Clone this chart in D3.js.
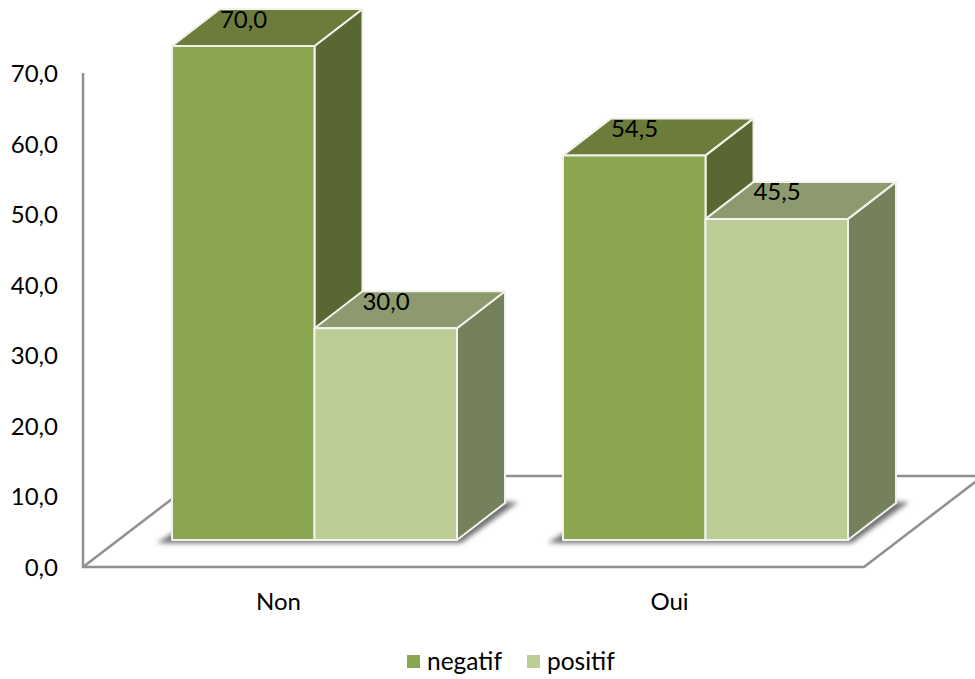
<!DOCTYPE html>
<html>
<head>
<meta charset="utf-8">
<script src="https://cdn.jsdelivr.net/npm/d3@7"></script>
<style>
  html, body { margin: 0; padding: 0; background: #fff; }
  svg { display: block; }
  text { font-family: Lato, "Open Sans", sans-serif; fill: #000; }
</style>
</head>
<body>
<svg id="chart" width="975" height="679"></svg>
<script>
const categories = ["Non", "Oui"];
const seriesNames = ["negatif", "positif"];
const negatif = [70.0, 54.5];
const positif = [30.0, 45.5];
const yTicks = [0, 10, 20, 30, 40, 50, 60, 70];

const faceColors = {
  negatif: { front: "#8ba650", top: "#6b7c3b", side: "#596832" },
  positif: { front: "#bbcc94", top: "#8d9a70", side: "#75815c" }
};

const W = 975, H = 679;
const fmt = v => v.toFixed(1).replace(".", ",");

const svg = d3.select("#chart").attr("viewBox", [0, 0, W, H]);

const defs = svg.append("defs");
defs.append("filter").attr("id", "soft")
  .attr("x", "-10%").attr("y", "-30%").attr("width", "120%").attr("height", "160%")
  .append("feGaussianBlur").attr("stdDeviation", 2.5);

// Wall scale (axis plane) and the plane the bar fronts stand on
const yWall = d3.scaleLinear().domain([0, 70]).range([567, 73]);
const yFront = d3.scaleLinear().domain([0, 70]).range([540, 46]);
const band = d3.scaleBand().domain(categories).range([83, 865]);
const barShiftX = 36;              // bars stand part-way into the floor
const sub = d3.scaleBand().domain(seriesNames).range([0, 285]);
const depthX = 48, depthY = -37;   // oblique projection of bar depth

const barLeft = (c, s) => band(c) + band.bandwidth() / 2 + barShiftX - 142.5 + sub(s);
const poly = pts => pts.map(p => p.join(",")).join(" ");

// Floor and wall outline
const axisColor = "#909090";
const floorDX = 119, floorDY = -91;
const floor = svg.append("g").attr("fill", "none").attr("stroke", axisColor).attr("stroke-width", 2.5);
floor.append("polyline").attr("points", poly([
  [83, yWall(70)], [83, yWall(0)], [864, yWall(0)], [864 + floorDX, yWall(0) + floorDY]
]));
floor.append("line").attr("x1", 83).attr("y1", yWall(0)).attr("x2", 83 + floorDX).attr("y2", yWall(0) + floorDY);
floor.append("line").attr("x1", 83 + floorDX).attr("y1", yWall(0) + floorDY).attr("x2", 864 + floorDX).attr("y2", yWall(0) + floorDY);

// Cast shadow under each bar group, with a white halo cutting the floor lines
categories.forEach(c => {
  const l = barLeft(c, "negatif"), r = l + 285, b = yFront(0);
  svg.append("polygon")
    .attr("points", poly([[l - 2, b + 2], [r + 2, b + 2], [r + depthX + 6, b + depthY - 1], [l + depthX, b + depthY]]))
    .attr("fill", "#fff").attr("stroke", "#fff").attr("stroke-width", 4);
  svg.append("polygon")
    .attr("points", poly([[l - 15, b + 3], [r + 4, b + 3], [r + depthX + 13, b + depthY - 1], [l + depthX, b + depthY]]))
    .attr("fill", "#707070").attr("filter", "url(#soft)");
});

// Three visible faces of a bar
function drawBar(c, s, v) {
  const col = faceColors[s];
  const x0 = barLeft(c, s), x1 = x0 + sub.bandwidth();
  const yT = yFront(v), yB = yFront(0);
  const g = svg.append("g").attr("stroke", "#f2f2ec").attr("stroke-width", 2).attr("stroke-linejoin", "round");
  g.append("polygon").attr("fill", col.side)
    .attr("points", poly([[x1, yT], [x1 + depthX, yT + depthY], [x1 + depthX, yB + depthY], [x1, yB]]));
  g.append("polygon").attr("fill", col.top)
    .attr("points", poly([[x0, yT], [x0 + depthX, yT + depthY], [x1 + depthX, yT + depthY], [x1, yT]]));
  g.append("rect").attr("fill", col.front)
    .attr("x", x0).attr("y", yT).attr("width", x1 - x0).attr("height", yB - yT);
}
categories.forEach((c, i) => {
  drawBar(c, "negatif", negatif[i]);
  drawBar(c, "positif", positif[i]);
});

// Value labels sit on the top faces
categories.forEach((c, i) => {
  [["negatif", negatif[i]], ["positif", positif[i]]].forEach(([s, v]) => {
    svg.append("text")
      .attr("x", barLeft(c, s) + 71.5)
      .attr("y", yFront(v) + depthY + 18.5)
      .attr("text-anchor", "middle")
      .attr("font-size", 24)
      .text(fmt(v));
  });
});

// Value axis labels
svg.append("g").selectAll("text").data(yTicks).join("text")
  .attr("x", 58).attr("y", d => yWall(d) + 9)
  .attr("text-anchor", "end").attr("font-size", 24)
  .text(fmt);

// Category labels
svg.append("g").selectAll("text").data(categories).join("text")
  .attr("x", d => band(d) + band.bandwidth() / 2).attr("y", 610)
  .attr("text-anchor", "middle").attr("font-size", 24)
  .text(d => d);

// Legend
const legendX = { negatif: 407, positif: 527 };
const legend = svg.append("g");
seriesNames.forEach(s => {
  legend.append("rect").attr("x", legendX[s]).attr("y", 655).attr("width", 13).attr("height", 13)
    .attr("fill", faceColors[s].front);
  legend.append("text").attr("x", legendX[s] + 20).attr("y", 670).attr("font-size", 24.5).text(s);
});
</script>
</body>
</html>
